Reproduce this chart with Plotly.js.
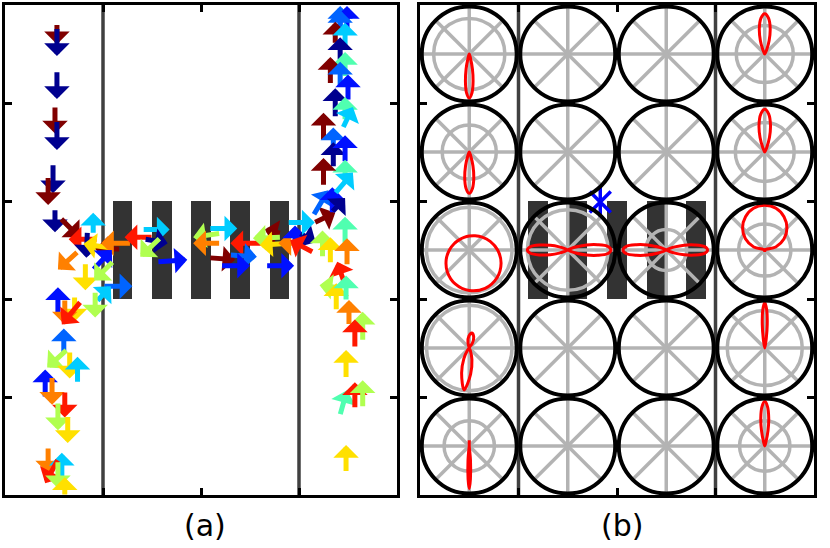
<!DOCTYPE html>
<html><head><meta charset="utf-8">
<script src="https://cdn.plot.ly/plotly-3.0.1.min.js"></script>
<style>html,body{margin:0;padding:0;background:#fff}#chart{width:830px;height:548px}</style>
</head><body><div id="chart"></div>
<script>
// ---------- shared geometry / ticks ----------
const xTicks = [1, 2, 3];
const yTicks = [1, 2, 3, 4];
const wallX = [1, 3];
const barCenters = [1.2, 1.6, 2.0, 2.4, 2.8];
const barBottom = [2, 2, 2, 2, 2];
const barHeight = [1, 1, 1, 1, 1];
const panelLabels = ['(a)', '(b)'];

// ---------- panel (a): velocity arrows (tail x0,y0 -> head x1,y1), colour level 0..9 ----------
const jetPalette = ['#00008f', '#0010ff', '#0064ff', '#00ccff', '#50ffb0', '#b0ff50', '#ffe000', '#ff8000', '#ff1800', '#800000'];
const arrowX0 = [0.53,0.53,0.53,0.51,0.53,0.49,0.44,0.51,0.57,0.90,0.94,0.84,1.17,1.10,1.28,1.50,1.41,1.43,1.58,1.56,0.74,0.90,0.82,1.10,1.01,0.94,0.92,0.54,0.71,0.61,0.77,0.60,0.63,0.66,0.74,0.41,0.48,0.61,0.54,0.64,0.44,0.58,0.54,0.54,0.61,
  2.19,2.19,2.09,2.62,2.09,2.30,2.21,2.81,2.81,2.91,2.98,2.96,3.01,3.14,2.67,2.89,3.16,3.15,3.34,3.34,3.24,3.32,3.47,3.49,3.47,3.45,3.38,3.48,3.51,3.65,3.57,3.48,3.42,3.57,3.65,3.48,
  3.42,3.49,3.42,3.37,3.47,3.42,3.47,3.32,3.42,3.50,3.37,3.47,3.45,3.25,3.35,3.35,3.47,3.47,3.25,3.37];
const arrowY0 = [4.80,4.76,4.32,3.96,3.81,3.37,3.24,2.91,2.82,2.67,2.61,2.68,2.51,2.52,2.57,2.63,2.71,2.61,2.62,2.38,2.48,2.30,2.36,2.38,2.13,1.98,2.07,1.86,2.02,1.99,1.97,1.45,1.48,1.46,1.15,1.00,1.20,1.05,0.94,0.80,0.48,0.12,0.36,0.34,0.00,
  2.67,2.57,2.72,2.57,2.42,2.45,2.34,2.67,2.63,2.57,2.57,2.52,2.67,2.48,2.34,2.78,2.78,2.86,2.88,2.89,2.43,2.37,2.57,2.35,2.14,2.11,1.89,1.99,1.74,1.58,1.51,1.20,0.82,0.89,0.90,0.24,
  4.75,4.75,4.71,4.61,4.54,4.44,4.27,4.20,4.16,4.03,3.86,3.83,3.75,3.62,3.47,3.35,3.40,3.18,3.16,3.08];
const arrowX1 = [0.53,0.53,0.53,0.51,0.53,0.49,0.44,0.51,0.76,0.90,0.65,0.83,0.92,0.80,0.98,1.22,1.68,1.66,1.38,1.86,0.54,1.09,0.82,0.91,1.30,1.08,0.92,0.54,0.71,0.61,0.58,0.60,0.43,0.66,0.74,0.41,0.48,0.61,0.54,0.64,0.44,0.58,0.41,0.54,0.61,
  1.92,1.92,2.37,2.30,2.35,2.57,2.50,2.65,2.53,2.60,2.79,2.96,3.17,2.91,2.95,3.16,3.37,3.30,3.34,3.47,3.24,3.32,3.47,3.49,3.39,3.21,3.38,3.48,3.51,3.65,3.57,3.48,3.49,3.57,3.65,3.48,
  3.42,3.49,3.42,3.37,3.47,3.42,3.47,3.32,3.42,3.50,3.37,3.47,3.55,3.25,3.35,3.35,3.47,3.47,3.25,3.55];
const arrowY1 = [4.60,4.48,4.04,3.69,3.52,3.08,2.96,2.68,2.63,2.88,2.61,2.42,2.51,2.56,2.57,2.63,2.71,2.57,2.43,2.40,2.30,2.50,2.09,2.19,2.13,2.13,1.81,2.12,1.77,1.74,1.74,1.70,1.30,1.19,1.41,1.28,0.92,0.79,0.66,0.53,0.22,0.43,0.12,0.07,0.18,
  2.63,2.57,2.72,2.57,2.40,2.43,2.34,2.71,2.62,2.55,2.57,2.75,2.58,2.60,2.34,2.78,2.88,3.11,3.14,3.03,2.70,2.63,2.84,2.62,2.38,2.14,2.16,2.24,1.99,1.87,1.79,1.48,1.07,1.15,1.17,0.51,
  4.99,4.99,4.95,4.83,4.82,4.67,4.52,4.47,4.42,4.29,4.15,4.06,3.96,3.90,3.75,3.60,3.67,3.42,3.44,3.29];
const arrowLevel = [9,0,0,9,0,0,9,0,9,3,8,0,9,6,7,8,3,0,5,1,7,1,6,5,2,3,5,1,6,7,8,2,5,6,3,1,7,8,5,6,7,3,8,5,6,
  5,7,3,8,9,2,1,9,5,6,7,1,0,8,1,3,9,2,1,0,5,6,4,7,8,5,6,4,7,5,8,6,4,8,5,6,
  2,1,2,9,3,0,4,9,2,1,0,4,3,9,2,0,1,4,9,3];

// ---------- panel (b): polar wheels (grid 5 rows x 4 cols), inner gray ring radius (null = none) ----------
const ringRadius = [
  [0.75, null, null, 0.60],
  [0.57, null, null, 0.62],
  [0.90, 0.85, 0.43, 0.55],
  [0.90, null, null, 0.79],
  [0.53, null, null, 0.53]
];
const spokeAngles = [0, 45, 90, 135, 180, 225, 270, 315];
// red angular distributions (theta in degrees, r normalised to wheel radius)
const theta_r1c1 = [250,254,258,262,266,270,274,278,282,286,290];
const r_r1c1     = [0,0.10,0.32,0.58,0.82,0.93,0.82,0.58,0.32,0.10,0];
const theta_r2c1 = [245,250,255,260,265,270,275,280,285,290,295];
const r_r2c1     = [0,0.10,0.30,0.55,0.77,0.87,0.77,0.55,0.30,0.10,0];
const theta_r3c1 = [0,22.5,45,67.5,90,112.5,135,157.5,180,202.5,225,247.5,270,292.5,315,337.5,360];
const r_r3c1     = [0.598,0.477,0.384,0.323,0.293,0.286,0.302,0.345,0.418,0.525,0.652,0.772,0.853,0.873,0.826,0.725,0.598];
const theta_r4c1 = [45,57,68,80,92,103,115,223,233,243,253,263,273,283,293,303];
const r_r4c1     = [0,0.12,0.25,0.32,0.25,0.12,0,0,0.06,0.25,0.55,0.89,0.55,0.25,0.06,0];
const theta_r5c1 = [80,90,100,262,265,268,270,272,275,278];
const r_r5c1     = [0,0.12,0,0,0.30,0.70,0.90,0.70,0.30,0];
const theta_r3c2 = [-30,-25,-20,-15,-10,-5,0,5,10,15,20,25,30,150,155,160,165,170,175,180,185,190,195,200,205,210];
const r_r3c2     = [0,0.07,0.20,0.41,0.64,0.85,0.91,0.85,0.64,0.41,0.20,0.07,0,0,0.07,0.19,0.38,0.60,0.79,0.85,0.79,0.60,0.38,0.19,0.07,0];
const theta_r3c3 = [-30,-25,-20,-15,-10,-5,0,5,10,15,20,25,30,150,155,160,165,170,175,180,185,190,195,200,205,210];
const r_r3c3     = [0,0.07,0.19,0.39,0.61,0.81,0.87,0.81,0.61,0.39,0.19,0.07,0,0,0.07,0.20,0.41,0.64,0.85,0.91,0.85,0.64,0.41,0.20,0.07,0];
const theta_r1c4 = [60,66,72,78,84,90,96,102,108,114,120];
const r_r1c4     = [0,0.10,0.30,0.55,0.76,0.85,0.76,0.55,0.30,0.10,0];
const theta_r2c4 = [60,66,72,78,84,90,96,102,108,114,120];
const r_r2c4     = [0,0.10,0.32,0.58,0.80,0.90,0.80,0.58,0.32,0.10,0];
const theta_r3c4 = [0,15,30,45,60,75,90,105,120,135,150,165,180,270,360];
const r_r3c4     = [0,0.24,0.47,0.66,0.81,0.91,0.94,0.91,0.81,0.66,0.47,0.24,0,0.03,0];
const theta_r4c4 = [78,81,84,87,90,93,96,99,102];
const r_r4c4     = [0,0.20,0.50,0.80,0.96,0.80,0.50,0.20,0];
const theta_r5c4 = [70,74,78,82,86,90,94,98,102,106,110];
const r_r5c4     = [0,0.10,0.33,0.60,0.83,0.94,0.83,0.60,0.33,0.10,0];
const starX = [1.83];
const starY = [2.99];

const curves = {
  '0,0': [theta_r1c1, r_r1c1], '1,0': [theta_r2c1, r_r2c1], '2,0': [theta_r3c1, r_r3c1],
  '3,0': [theta_r4c1, r_r4c1], '4,0': [theta_r5c1, r_r5c1], '2,1': [theta_r3c2, r_r3c2],
  '2,2': [theta_r3c3, r_r3c3], '0,3': [theta_r1c4, r_r1c4], '1,3': [theta_r2c4, r_r2c4],
  '2,3': [theta_r3c4, r_r3c4], '3,3': [theta_r4c4, r_r4c4], '4,3': [theta_r5c4, r_r5c4]
};

// ---------- layout geometry ----------
const M = {l: 5, r: 16, t: 5, b: 53};
const PW = 830 - M.l - M.r, PH = 548 - M.t - M.b;
const domA = [0, 392 / PW];
const domB = [415 / PW, 1];
const GRAY = '#b3b3b3', WALL = '#404040';

function axisStyle(extra) {
  return Object.assign({
    showline: true, linecolor: '#000', linewidth: 3, mirror: 'ticks',
    ticks: 'inside', ticklen: 7, tickwidth: 3, tickcolor: '#000',
    showticklabels: false, showgrid: false, zeroline: false, fixedrange: true
  }, extra);
}

const data = [];
// obstacles
['x', 'x2'].forEach((xa, k) => {
  data.push({type: 'bar', x: barCenters, y: barHeight, base: barBottom, width: 0.2,
    xaxis: xa, yaxis: k ? 'y2' : 'y', marker: {color: '#333333', line: {width: 0}},
    hoverinfo: 'skip', showlegend: false});
  wallX.forEach(w => data.push({type: 'scatter', mode: 'lines', x: [w, w], y: [0, 5],
    xaxis: xa, yaxis: k ? 'y2' : 'y', line: {color: WALL, width: 3.5},
    hoverinfo: 'skip', showlegend: false}));
});
// asterisk
data.push({type: 'scatter', mode: 'markers', x: starX, y: starY, xaxis: 'x2', yaxis: 'y2', cliponaxis: false,
  marker: {symbol: 'line-ns-open', size: 23, color: '#0000ff', line: {color: '#0000ff', width: 3.5}}, showlegend: false});
data.push({type: 'scatter', mode: 'markers', x: starX, y: starY, xaxis: 'x2', yaxis: 'y2', cliponaxis: false,
  marker: {symbol: 'x-thin-open', size: 21, color: '#0000ff', line: {color: '#0000ff', width: 3.5}}, showlegend: false});

const layout = {
  width: 830, height: 548, margin: M, showlegend: false,
  paper_bgcolor: '#fff', plot_bgcolor: 'rgba(0,0,0,0)', bargap: 0,
  xaxis: axisStyle({domain: domA, range: [0, 4], tickvals: xTicks, anchor: 'y'}),
  yaxis: axisStyle({domain: [0, 1], range: [0, 5], tickvals: yTicks, anchor: 'x'}),
  xaxis2: axisStyle({domain: domB, range: [0, 4], tickvals: xTicks, anchor: 'y2'}),
  yaxis2: axisStyle({domain: [0, 1], range: [0, 5], tickvals: yTicks, anchor: 'x2'}),
  annotations: [], shapes: []
};

// polar wheels
const cellPxW = 394 / 4, cellPxH = PH / 5, rad = 47.5;
let k = 0;
for (let i = 0; i < 5; i++) {
  for (let j = 0; j < 4; j++) {
    k++;
    const id = k === 1 ? 'polar' : 'polar' + k;
    const cx = (415 + (j + 0.5) * cellPxW) / PW;
    const cy = 1 - ((i + 0.5) * cellPxH) / PH;
    const ring = ringRadius[i][j];
    layout[id] = {
      domain: {x: [cx - rad / PW, cx + rad / PW], y: [cy - rad / PH, cy + rad / PH]},
      bgcolor: 'rgba(0,0,0,0)',
      angularaxis: {tickmode: 'array', tickvals: spokeAngles, showticklabels: false, ticks: '',
        showgrid: true, gridcolor: GRAY, gridwidth: 3.5, showline: true, linecolor: '#000', linewidth: 4},
      radialaxis: {range: [0, 1], showticklabels: false, ticks: '', showline: false,
        showgrid: ring !== null, tickmode: 'array', tickvals: ring !== null ? [ring] : [],
        gridcolor: GRAY, gridwidth: 3.5}
    };
    const c = curves[i + ',' + j];
    if (c) {
      data.push({type: 'scatterpolar', subplot: id, theta: c[0], r: c[1], mode: 'lines',
        line: {color: '#ff0000', width: 3, shape: 'spline'}, hoverinfo: 'skip', showlegend: false});
    } else {
      data.push({type: 'scatterpolar', subplot: id, theta: [0], r: [0], mode: 'markers',
        marker: {size: 1, color: 'rgba(0,0,0,0)'}, hoverinfo: 'skip', showlegend: false});
    }
  }
}

// arrows
for (let n = 0; n < arrowX0.length; n++) {
  layout.annotations.push({xref: 'x', yref: 'y', axref: 'x', ayref: 'y',
    x: arrowX1[n], y: arrowY1[n], ax: arrowX0[n], ay: arrowY0[n], text: '',
    showarrow: true, arrowhead: 1, arrowsize: 0.85, arrowwidth: 5,
    arrowcolor: jetPalette[arrowLevel[n]], standoff: 0, startstandoff: 0,
    font: {size: 1}, borderpad: 0});
}
// panel labels
layout.annotations.push({xref: 'paper', yref: 'paper', x: 200 / PW, y: -30 / PH, xanchor: 'center', yanchor: 'middle',
  text: panelLabels[0], showarrow: false, font: {family: 'DejaVu Sans', size: 30, color: '#000'}});
layout.annotations.push({xref: 'paper', yref: 'paper', x: 617 / PW, y: -30 / PH, xanchor: 'center', yanchor: 'middle',
  text: panelLabels[1], showarrow: false, font: {family: 'DejaVu Sans', size: 30, color: '#000'}});

Plotly.newPlot('chart', data, layout, {staticPlot: true, displayModeBar: false});
</script></body></html>
